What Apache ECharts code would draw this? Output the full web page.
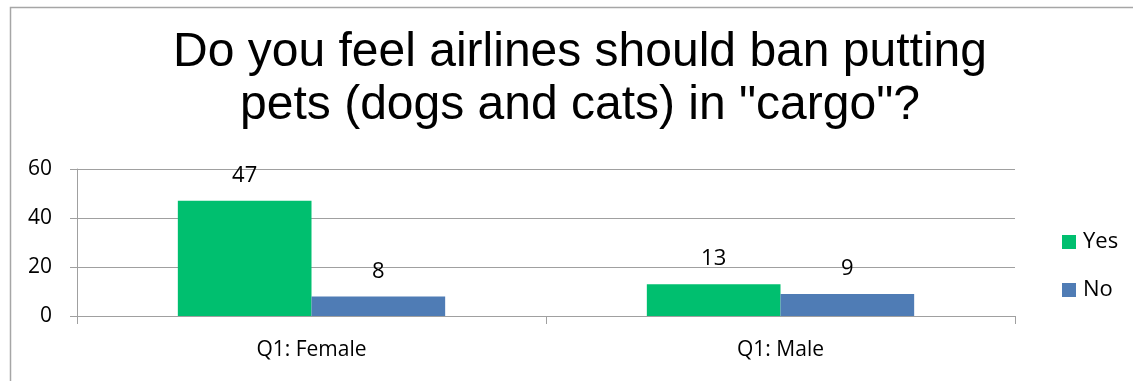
<!DOCTYPE html>
<html>
<head>
<meta charset="utf-8">
<script src="https://cdn.jsdelivr.net/npm/echarts@6/dist/echarts.min.js"></script>
<style>
html,body{margin:0;padding:0;background:#fff;}
#chart{width:1133px;height:381px;}
</style>
</head>
<body>
<div id="chart"></div>
<script>
var titleText = 'Do you feel airlines should ban putting\npets (dogs and cats) in "cargo"?';
var categories = ['Q1: Female', 'Q1: Male'];
var yesValues = [47, 13];
var noValues = [8, 9];
var yTicks = [0, 20, 40, 60];

var chart = echarts.init(document.getElementById('chart'), null, {renderer: 'canvas'});
var labelStyle = {show: true, position: 'top', distance: 14, color: '#000', fontFamily: 'Open Sans', fontSize: 22};
chart.setOption({
  animation: false,
  backgroundColor: '#fff',
  graphic: [{
    type: 'rect', left: 8, top: 5,
    shape: {x: 0, y: 0, width: 1300, height: 600},
    style: {fill: 'none', stroke: '#a6a6a6', lineWidth: 1.5},
    silent: true
  }],
  title: {
    text: titleText,
    left: 575, top: 21, textAlign: 'center',
    textStyle: {fontFamily: 'Liberation Sans', fontSize: 48, fontWeight: 'normal', color: '#000', lineHeight: 53}
  },
  legend: {
    orient: 'vertical', left: 1057, top: 226,
    itemWidth: 14, itemHeight: 14, itemGap: 26,
    icon: 'rect',
    textStyle: {fontFamily: 'Open Sans', fontSize: 22, color: '#000', padding: [0, 0, 0, 2]},
    data: ['Yes', 'No']
  },
  grid: {left: 77, right: 118, top: 169, bottom: 65, containLabel: false},
  xAxis: {
    type: 'category', data: categories,
    axisLine: {show: true, lineStyle: {color: '#a0a0a0', width: 1}},
    axisTick: {show: true, alignWithLabel: false, length: 8, lineStyle: {color: '#a0a0a0'}},
    axisLabel: {margin: 24, fontFamily: 'Open Sans', fontSize: 21, color: '#000'}
  },
  yAxis: {
    type: 'value', min: yTicks[0], max: yTicks[yTicks.length - 1], interval: 20,
    axisLine: {show: true, lineStyle: {color: '#a0a0a0', width: 1}},
    axisTick: {show: true, length: 7, lineStyle: {color: '#a0a0a0'}},
    splitLine: {show: true, lineStyle: {color: '#a0a0a0', width: 1}},
    axisLabel: {margin: 25, fontFamily: 'Open Sans', fontSize: 21, color: '#000'}
  },
  series: [
    {name: 'Yes', type: 'bar', data: yesValues, barGap: '0%', barCategoryGap: '43%',
     itemStyle: {color: '#00BF6F'}, label: labelStyle},
    {name: 'No', type: 'bar', data: noValues, barGap: '0%', barCategoryGap: '43%',
     itemStyle: {color: '#4F7CB5'}, label: labelStyle}
  ]
});
</script>
</body>
</html>
